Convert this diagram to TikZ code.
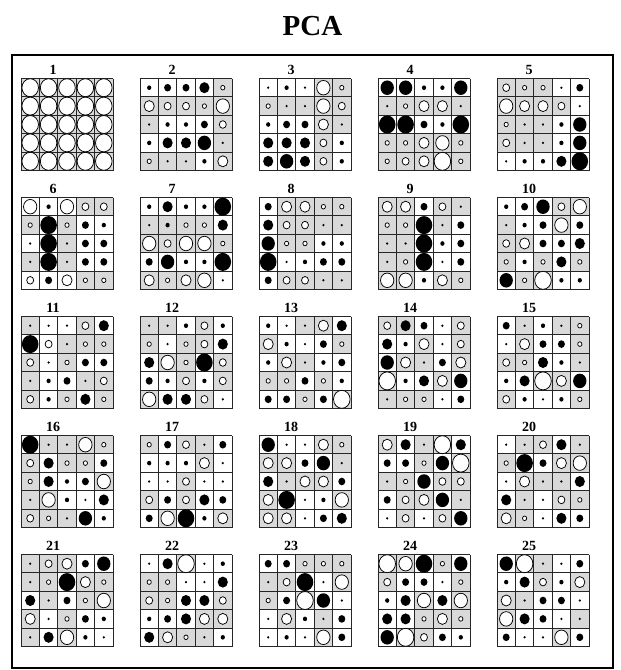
\documentclass[tikz,border=0pt]{standalone}
\usepackage{fontspec}
\setmainfont{Liberation Serif}
\definecolor{cellgray}{HTML}{D9D9D9}
\definecolor{gridink}{HTML}{262626}
\tikzset{cell/.style={fill=cellgray}, gridline/.style={draw=gridink,line width=0.9pt}, posdot/.style={fill=black}, negdot/.style={draw=black,fill=white,line width=0.75pt}, panelno/.style={font=\bfseries\fontsize{14}{14}\selectfont,anchor=base,inner sep=0pt}, heading/.style={font=\bfseries\fontsize{29}{29}\selectfont,anchor=base,inner sep=0pt}, outerframe/.style={draw=black,line width=2pt}}
\newcommand\cellsz{18.4}
\def\pcabg#1#2#3\relax{\if g#1\fill[cell] ({\px+\pcol*\cellsz},{\py+\prow*\cellsz}) rectangle ++(\cellsz,\cellsz);\fi}
\def\pcadot#1#2#3\relax{%
  \pgfmathsetmacro\dia{{0,2.6,4.6,7.6,11,14.5,18}[#3]}%
  \pgfmathsetmacro\cx{\px+(\pcol+0.5)*\cellsz}%
  \pgfmathsetmacro\cy{\py+(\prow+0.5)*\cellsz}%
  \if b#2\fill[posdot] (\cx,\cy) ellipse [x radius=0.46*\dia pt, y radius=0.5*\dia pt];%
  \else\filldraw[negdot] (\cx,\cy) ellipse [x radius=0.46*\dia pt, y radius=0.5*\dia pt];\fi}
\newcommand\pcapanel[4]{%
  \pgfmathsetmacro\px{21+119*#1}%
  \pgfmathsetmacro\py{78.5+119*#2}%
  \node[panelno] (no#3) at ({\px+32},{\py-4}) {#3};
  \foreach \cellcode [count=\i from 0] in {#4} {\pgfmathtruncatemacro\pcol{mod(\i,5)}\pgfmathtruncatemacro\prow{div(\i,5)}\expandafter\pcabg\cellcode\relax}
  \foreach \k in {0,...,5} {\draw[gridline] ({\px+\k*\cellsz},\py) -- ++(0,5*\cellsz); \draw[gridline] (\px,{\py+\k*\cellsz}) -- ++(5*\cellsz,0);}
  \foreach \cellcode [count=\i from 0] in {#4} {\pgfmathtruncatemacro\pcol{mod(\i,5)}\pgfmathtruncatemacro\prow{div(\i,5)}\expandafter\pcadot\cellcode\relax}
}
\begin{document}
\begin{tikzpicture}[x=1pt,y=-1pt]
\useasboundingbox (0,0) rectangle (621,670);
\node[heading] (title) at (312.5,35) {PCA};
\draw[outerframe] (12,55) rectangle (613,668);
\pcapanel{0}{0}{1}{gw6,gw6,gw6,gw6,gw6,
  gw6,gw6,gw6,gw6,gw6,
  gw6,gw6,gw6,gw6,gw6,
  gw6,gw6,gw6,gw6,gw6,
  gw6,gw6,gw6,gw6,gw6}
\pcapanel{1}{0}{2}{wb2,wb3,wb3,wb4,gw2,
  gw4,gw3,gw3,gw2,gw5,
  gb1,wb2,wb2,wb3,gw3,
  wb2,wb4,wb4,wb5,gb1,
  gw2,gb1,gb1,wb2,gw4}
\pcapanel{2}{0}{3}{wb1,wb2,wb1,gw5,gw2,
  gw2,gb1,gb1,gw5,gw3,
  wb2,wb3,wb3,gw4,gb1,
  wb4,wb4,wb4,gw3,wb2,
  wb4,wb5,wb4,gw3,wb2}
\pcapanel{3}{0}{4}{wb5,wb5,wb2,wb2,wb5,
  gb1,gw2,gw4,gw4,gb1,
  wb6,wb6,wb3,wb2,wb6,
  gw2,gw2,gw4,gw5,gw2,
  gw2,gw3,gw4,gw6,gw2}
\pcapanel{4}{0}{5}{gw3,gw2,gw2,wb1,wb3,
  gw5,gw4,gw4,gw3,wb1,
  gw2,gb1,gb1,wb2,wb5,
  gw3,gb1,gb1,wb2,wb5,
  wb1,wb2,wb2,wb4,wb6}
\pcapanel{0}{1}{6}{ww5,wb2,ww5,gw3,gw3,
  gw2,wb6,gw2,wb3,wb2,
  wb1,wb6,gb1,wb3,wb3,
  gb1,wb6,gb1,wb3,wb3,
  ww3,wb3,ww4,gw2,gw2}
\pcapanel{1}{1}{7}{wb2,wb4,wb2,wb2,wb6,
  gb1,gb2,gw2,gw2,wb4,
  gw5,gw3,gw5,gw5,gw2,
  wb3,wb5,wb2,wb2,wb6,
  gw4,gw2,gw4,gw5,wb1}
\pcapanel{2}{1}{8}{wb3,gw4,gw4,gw2,gw2,
  wb4,gw3,gw3,gb1,gb1,
  wb5,gw2,gw2,wb2,wb2,
  wb6,wb1,wb2,wb3,wb3,
  wb3,gw3,gw3,gb1,gb1}
\pcapanel{3}{1}{9}{gw4,gw4,wb3,gw3,gb1,
  gw2,gw2,wb6,gb1,wb3,
  gb1,gb1,wb6,wb2,wb3,
  gb1,gw2,wb6,wb1,wb3,
  gw5,gw5,wb2,gw4,gw2}
\pcapanel{4}{1}{10}{wb2,wb3,wb5,gw3,gw5,
  gb1,wb2,wb3,gw5,wb3,
  gw3,gw4,wb3,wb3,wb4,
  gw2,wb2,gw2,wb4,gw2,
  wb5,gw2,gw6,wb2,wb2}
\pcapanel{0}{2}{11}{gb1,wb1,wb1,gw3,wb4,
  wb6,ww3,gb1,gw2,gw2,
  gw3,wb1,gw2,wb3,wb3,
  gb1,wb2,wb3,gb1,gw3,
  gw3,wb2,gw2,wb4,gw2}
\pcapanel{1}{2}{12}{gb1,gb1,wb2,gw3,wb2,
  gw2,wb1,gw2,gw3,wb4,
  wb4,gw5,gw2,wb6,gw3,
  wb3,wb2,gw3,wb2,gw3,
  gw5,wb4,wb4,gw3,wb1}
\pcapanel{2}{2}{13}{wb2,wb1,gb1,gw4,wb4,
  gw4,wb2,wb1,wb3,gw2,
  wb2,gw4,gb1,wb2,wb3,
  gw2,gw2,wb3,gw2,wb2,
  wb3,wb3,gw2,wb3,gw6}
\pcapanel{3}{2}{14}{gw3,gb4,wb3,wb1,gw3,
  wb4,wb2,gw4,wb1,gw3,
  wb5,gw4,gb1,wb3,gw4,
  gw6,wb2,wb4,gw4,wb5,
  gb1,gw2,gw2,wb1,wb3}
\pcapanel{4}{2}{15}{wb3,gb1,wb2,gb1,gw2,
  wb1,gw4,wb3,wb3,gw2,
  gw3,gw2,wb4,wb2,gb1,
  wb2,wb4,gw6,gw4,wb5,
  gw3,wb2,wb1,wb2,gw2}
\pcapanel{0}{3}{16}{wb6,gb1,gb1,gw5,gw2,
  gw3,wb4,gw2,gw2,wb3,
  gw2,wb4,wb2,wb3,gw5,
  gb1,gw5,wb2,wb1,wb4,
  gw3,gw2,gb1,wb5,wb2}
\pcapanel{1}{3}{17}{gw2,wb3,gw3,gb1,wb3,
  wb2,wb2,wb2,gw4,wb1,
  wb1,wb1,gw3,wb1,wb1,
  gw3,wb3,gw3,wb4,wb3,
  wb3,gw5,wb6,wb2,gw4}
\pcapanel{2}{3}{18}{wb5,wb1,wb1,gw4,gw2,
  gw4,gw4,wb3,wb5,gb1,
  wb4,gb1,gw4,gw4,wb3,
  gw4,wb6,wb1,wb2,gw5,
  gw4,gw4,wb1,wb3,wb4}
\pcapanel{3}{3}{19}{gw4,wb4,gb1,gw6,wb4,
  wb3,wb3,gw2,wb5,gw6,
  gb1,gw2,wb5,gw3,gw3,
  wb3,gw3,gw4,wb5,gb1,
  wb1,gw3,wb1,gw3,wb5}
\pcapanel{4}{3}{20}{wb1,gb1,gw3,wb4,gb1,
  gw2,wb6,wb3,gw4,gw5,
  wb1,gw4,gb1,gb1,wb4,
  wb4,gb1,wb1,gw3,gw2,
  gw4,gw2,wb1,wb4,wb3}
\pcapanel{0}{4}{21}{gb1,gw3,gw4,wb3,wb5,
  gb1,gw2,wb6,gw4,gw2,
  wb4,gb1,wb3,gw2,gw5,
  gw4,wb1,gw2,wb3,wb2,
  gb1,wb4,gw5,wb2,wb1}
\pcapanel{1}{4}{22}{wb1,wb4,gw6,wb1,wb2,
  gw2,gw2,wb1,wb1,wb4,
  gw3,gw2,wb4,wb4,gw3,
  wb2,wb3,wb4,gw4,gw4,
  wb4,gw4,gw2,gb1,wb2}
\pcapanel{2}{4}{23}{wb3,wb3,gw2,gw2,gw2,
  gb1,gw3,wb6,wb1,gw5,
  gw2,wb3,gw6,wb5,wb1,
  wb1,gw4,wb2,gb1,wb3,
  wb1,wb2,wb1,gw5,wb3}
\pcapanel{3}{4}{24}{gw6,gw5,wb6,gw2,wb5,
  gw3,wb3,wb3,wb1,gw2,
  wb2,wb4,gw5,wb4,gw5,
  wb4,wb4,gw2,gw4,gw2,
  wb5,gw6,gw3,wb3,wb2}
\pcapanel{4}{4}{25}{wb5,gw6,gb1,wb1,wb3,
  wb2,wb4,gw3,wb2,gw4,
  gw4,gb1,wb3,wb3,wb1,
  gw5,wb4,wb3,wb1,gb1,
  wb3,wb1,wb1,gw5,wb3}
\end{tikzpicture}
\end{document}
